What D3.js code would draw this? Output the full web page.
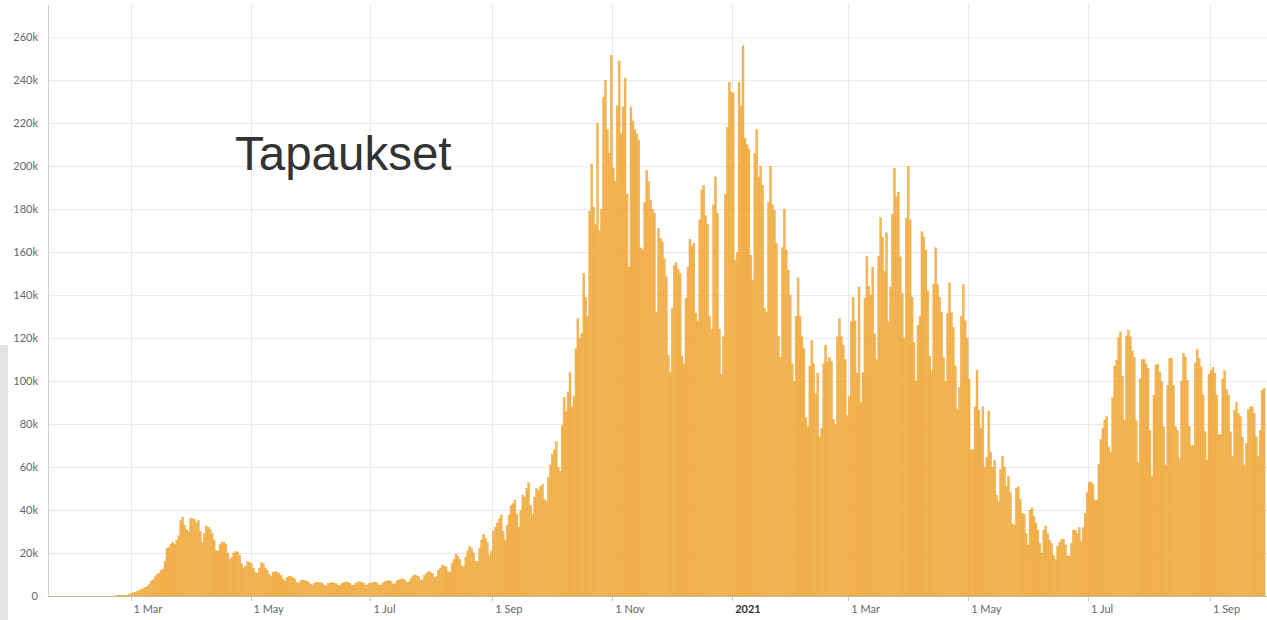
<!DOCTYPE html>
<html>
<head>
<meta charset="utf-8">
<script src="https://cdn.jsdelivr.net/npm/d3@7"></script>
<style>
  body { margin: 0; background: #fff; }
  svg { display: block; }
</style>
</head>
<body>
<svg id="chart"></svg>
<script>
// daily new cases, in thousands; first value is 22 Jan 2020
const firstDay = new Date(2020, 0, 22);

const jan20 = [0, 0, 0, 0, 0, 0, 0, 0, 0, 0];
const feb20 = [0, 0, 0, 0, 0, 0, 0, 0, 0, 0, 0, 0, 0, 0, 0, 0, 0, 0, 0, 0,
  0.02, 0.05, 0.1, 0.15, 0.2, 0.15, 0.3, 0.4, 0.6];
const mar20 = [1.2, 1.5, 1.8, 2.2, 2.5, 3, 3.5, 4, 4.5, 5.5, 7, 7.5, 9, 10, 10.5, 12, 12.5, 16, 22, 22.5,
  24, 25, 24, 26, 28, 35, 36.7, 33, 31, 30, 36];
const apr20 = [36, 35.5, 34, 35, 30, 25, 29, 32.6, 32, 31, 29, 26, 21, 21, 24, 25, 25, 24, 20, 17,
  18, 20, 20.6, 20.5, 19, 15, 13, 14, 16, 15.5];
const may20 = [15, 13, 11, 10.5, 13, 15.5, 15, 13, 12, 10, 9, 11, 11.3, 11, 10.5, 9.5, 8, 7, 8.5, 9,
  9, 8.5, 8, 6.5, 6, 7, 7.4, 7.2, 7, 6.5, 5.5];
const jun20 = [5, 6, 6.5, 6.3, 6.2, 5.8, 5, 4.7, 5.8, 6, 6.3, 6, 5.8, 4.9, 4.8, 5.9, 6.2, 6.5, 6.4, 6,
  5, 5, 5.8, 6.2, 6.6, 6.4, 6, 5, 5.2, 6];
const jul20 = [6, 6.3, 6.5, 6, 5, 5.2, 6.3, 6.7, 7, 7.2, 6.8, 5.5, 5.8, 7, 7.5, 7.8, 8, 7.4, 6.2, 6.5,
  8, 9, 9.8, 9.5, 9, 7.5, 7.5, 9.5, 10.5, 11.3, 11];
const aug20 = [10.5, 8.5, 9, 12, 13, 14.4, 14, 13.5, 11.5, 11, 15.3, 17, 19.5, 18.5, 17, 14, 13.5, 18, 21, 23,
  22, 20, 16, 16, 22, 26, 28.8, 27, 25, 19, 21];
const sep20 = [30, 32, 34, 36, 37.7, 30, 26, 33, 37.7, 42, 43, 44.6, 38, 32, 40, 47, 46, 50, 52.7, 42,
  38, 46, 50, 49, 51, 52, 45, 44, 55, 61];
const oct20 = [66, 68, 71.8, 60, 58, 79.5, 92.5, 85.7, 95, 104, 88, 92.7, 115, 129, 120, 122, 150, 139, 130, 179,
  201, 181, 173, 220, 170, 180, 232, 240, 217, 206, 251.6];
const nov20 = [199, 193, 228, 249, 215, 227.6, 241, 187, 153, 227.6, 221, 217, 215, 212, 162, 161, 183, 198, 193, 184,
  180, 178, 132, 171, 166.5, 164.8, 157, 148.5, 112, 104];
const dec20 = [134, 154, 155, 152, 150, 111.6, 108, 138.6, 153, 166, 162.5, 164, 131.6, 128, 175, 189, 191, 177, 173, 130,
  124, 182, 195, 178, 124, 103, 120.6, 187, 218, 239, 234.5];
const jan21 = [234, 156, 160, 239, 228, 256, 213, 210, 208, 158.6, 147, 206, 217, 195, 200, 191, 134, 132, 183, 200,
  182, 179.5, 164, 121, 111, 162, 180, 161, 151.6, 140, 108];
const feb21 = [99.7, 130, 148, 130, 120.6, 115, 83, 78.7, 107, 119, 108, 94, 103.7, 74, 78, 108, 116.7, 109, 111, 109,
  82, 80, 120.6, 129, 120.6, 116.7, 110, 84];
const mar21 = [92.7, 127.6, 139, 128, 103.7, 143.8, 90, 104, 138.6, 158, 144, 140, 153, 122, 110, 158, 176, 167, 151, 169,
  127.6, 143.8, 177.7, 199, 185.7, 188, 157.8, 140.8, 120, 175.7, 200];
const apr21 = [175, 139, 118, 100, 126, 130, 169.5, 167, 161, 142, 111.6, 105, 145, 162, 145, 139, 132, 111, 100, 131.5,
  145.7, 131.8, 125, 107, 87, 97, 130, 145, 128, 120];
const may21 = [101, 68, 68, 88, 105, 86.5, 78, 88, 60, 64.5, 86, 67, 60, 63, 47, 43.9, 59, 65, 60, 50.8,
  55.8, 48, 33.5, 33, 50, 50.8, 45, 38.5, 38, 29, 23.7];
const jun21 = [40, 41, 37, 34, 30.7, 24.5, 19.9, 30.7, 32.6, 29, 26, 24.5, 19, 17, 23, 24.8, 26.3, 26.3, 23.7, 19,
  18.6, 24.5, 30.7, 30.7, 29, 31.8, 25.3, 31.8, 38.5, 48];
const jul21 = [53, 53, 52, 44.6, 44.6, 61.4, 72.9, 78, 81.9, 83.4, 69.4, 67, 92.4, 107, 109.8, 120.3, 122.9, 102.3, 81.9, 121,
  123.7, 120.6, 114, 111, 81.5, 62, 101, 110, 110, 108, 105.9];
const aug21 = [77, 55.5, 93.5, 107.4, 107.9, 104.3, 99.7, 78.8, 61, 98, 110.5, 110.5, 98, 78.8, 77, 64, 100, 112.9, 111.3, 100.4,
  79, 70, 70, 108.5, 114.7, 110.5, 106.6, 93.5, 76.4, 63.3, 103.3];
const sep21 = [105, 106.4, 103.7, 93.5, 75, 75, 101, 104.8, 96, 93.5, 76.4, 64.8, 86.5, 90, 85, 83.4, 74, 61, 71, 86.8,
  88, 88, 85, 74, 64.8, 77, 95.8, 96.6];

const xTickDates = [new Date(2020, 2, 1), new Date(2020, 4, 1), new Date(2020, 6, 1), new Date(2020, 8, 1), new Date(2020, 10, 1),
  new Date(2021, 0, 1), new Date(2021, 2, 1), new Date(2021, 4, 1), new Date(2021, 6, 1), new Date(2021, 8, 1)];
const xTickLabels = ["1 Mar", "1 May", "1 Jul", "1 Sep", "1 Nov", "2021", "1 Mar", "1 May", "1 Jul", "1 Sep"];
const yTicks = [0, 20, 40, 60, 80, 100, 120, 140, 160, 180, 200, 220, 240, 260];
const yTickLabels = ["0", "20k", "40k", "60k", "80k", "100k", "120k", "140k", "160k", "180k", "200k", "220k", "240k", "260k"];
const title = "Tapaukset";

const width = 1267;
const height = 620;
const margin = { top: 5, right: 0, bottom: 24, left: 48 };

const values = [].concat(jan20, feb20, mar20, apr20, may20, jun20, jul20, aug20, sep20, oct20, nov20, dec20,
  jan21, feb21, mar21, apr21, may21, jun21, jul21, aug21, sep21);
const data = values.map((v, i) => ({ date: d3.timeDay.offset(firstDay, i), value: v }));

const svg = d3.select("#chart").attr("width", width).attr("height", height);

const xScale = d3.scaleTime()
  .domain([new Date(2020, 0, 19), new Date(2021, 8, 30)])
  .range([margin.left, width - margin.right]);
const yScale = d3.scaleLinear().domain([0, 275]).range([height - margin.bottom, margin.top]);

// grey strip at the far left
svg.append("rect").attr("x", 0).attr("y", 345).attr("width", 8).attr("height", 275).attr("fill", "#e4e4e4");

// grid
svg.append("g").selectAll("line").data(yTicks.slice(1)).join("line")
  .attr("x1", margin.left).attr("x2", width)
  .attr("y1", d => yScale(d) + 0.5).attr("y2", d => yScale(d) + 0.5)
  .attr("stroke", "#e8e8e8");
svg.append("g").selectAll("line").data(xTickDates).join("line")
  .attr("x1", d => Math.round(xScale(d)) + 0.5).attr("x2", d => Math.round(xScale(d)) + 0.5)
  .attr("y1", margin.top).attr("y2", yScale(0))
  .attr("stroke", "#e8e8e8");

// bars
svg.append("g").selectAll("rect").data(data).join("rect")
  .attr("x", d => xScale(d.date))
  .attr("width", d => xScale(d3.timeDay.offset(d.date, 1)) - xScale(d.date))
  .attr("y", d => yScale(d.value))
  .attr("height", d => yScale(0) - yScale(d.value))
  .attr("fill", "rgba(240,165,50,0.8)")
  .attr("stroke", "rgba(238,160,40,0.9)")
  .attr("stroke-width", 0.4);

// axes
svg.append("line").attr("x1", margin.left + 0.5).attr("x2", margin.left + 0.5)
  .attr("y1", margin.top).attr("y2", yScale(0)).attr("stroke", "#d0d0d0");
svg.append("line").attr("x1", margin.left).attr("x2", width)
  .attr("y1", yScale(0) + 0.5).attr("y2", yScale(0) + 0.5).attr("stroke", "#c8b8a0");

const xAxis = svg.append("g");
xAxis.selectAll("line").data(xTickDates).join("line")
  .attr("x1", d => Math.round(xScale(d)) + 0.5).attr("x2", d => Math.round(xScale(d)) + 0.5)
  .attr("y1", yScale(0)).attr("y2", yScale(0) + 5)
  .attr("stroke", "#c8c8c8");
xAxis.selectAll("text").data(xTickDates).join("text")
  .attr("x", d => xScale(d) + 3)
  .attr("y", 613)
  .attr("font-family", "Lato, 'Open Sans', sans-serif")
  .attr("font-size", 11)
  .attr("font-weight", (d, i) => xTickLabels[i] === "2021" ? "bold" : "normal")
  .attr("fill", (d, i) => xTickLabels[i] === "2021" ? "#333" : "#666")
  .text((d, i) => xTickLabels[i]);

svg.append("g").selectAll("text").data(yTicks).join("text")
  .attr("x", 38)
  .attr("y", d => yScale(d) + 4)
  .attr("text-anchor", "end")
  .attr("font-family", "Lato, 'Open Sans', sans-serif")
  .attr("font-size", 11)
  .attr("fill", "#666")
  .text((d, i) => yTickLabels[i]);

svg.append("text").text(title)
  .attr("x", 235).attr("y", 170)
  .attr("font-family", "'Liberation Sans', Arial, sans-serif")
  .attr("font-size", 47.5)
  .attr("fill", "#333");
</script>
</body>
</html>
